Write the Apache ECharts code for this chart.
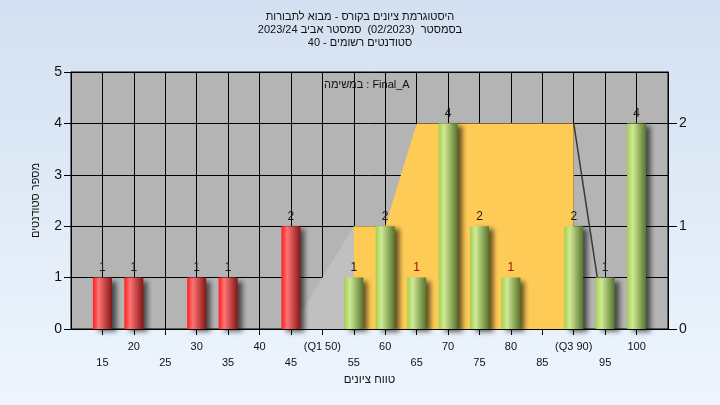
<!DOCTYPE html>
<html>
<head>
<meta charset="utf-8">
<script src="https://cdn.jsdelivr.net/npm/echarts@6/dist/echarts.min.js"></script>
<style>
html,body{margin:0;padding:0;}
#chart{width:720px;height:405px;}
</style>
</head>
<body>
<div id="chart"></div>
<script>
// ---- data ----
const titleLines = [
  'היסטוגרמת ציונים בקורס - מבוא לתבורות',
  'בסמסטר  (02/2023)  סמסטר אביב 2023/24',
  'סטודנטים רשומים - 40'
];
const annotationText = 'במשימה : Final_A';
const yAxisTitle = 'מספר סטודנטים';
const xAxisTitle = 'טווח ציונים';

const failGrades = [15, 20, 30, 35, 45];
const failCounts = [1, 1, 1, 1, 2];
const passGrades = [55, 60, 65, 70, 75, 80, 90, 95, 100];
const passCounts = [1, 2, 1, 4, 2, 1, 2, 1, 4];

const xTickValues = [15, 20, 25, 30, 35, 40, 45, 50, 55, 60, 65, 70, 75, 80, 85, 90, 95, 100];
const xTickLabels = ['15', '20', '25', '30', '35', '40', '45', '(Q1 50)', '55', '60', '65', '70', '75', '80', '85', '(Q3 90)', '95', '100'];
const y2TickValues = [0, 1, 2];

// box (right axis units)
const boxX = [55, 60, 65, 90];
const boxY = [1, 1, 2, 2];
const lowWhiskerX = [45, 55];
const lowWhiskerY = [0, 1];
const highWhiskerX = [90, 95];
const highWhiskerY = [2, 0];

// ---- helpers ----
const pairs = (xs, ys) => xs.map((x, i) => [x, ys[i]]);
const FONT = '"Liberation Sans", "DejaVu Sans", Arial, sans-serif';
const altLabelGrades = [65, 80];

const redGrad = new echarts.graphic.LinearGradient(0, 0, 1, 0, [
  {offset: 0, color: '#ff1e1e'}, {offset: 0.3, color: '#ff7474'}, {offset: 1, color: '#861616'}
]);
const greenGrad = new echarts.graphic.LinearGradient(0, 0, 1, 0, [
  {offset: 0, color: '#a4d04c'}, {offset: 0.3, color: '#cfea96'}, {offset: 1, color: '#56742c'}
]);
const barShadow = {shadowBlur: 5, shadowColor: 'rgba(0,0,0,0.6)', shadowOffsetX: 5, shadowOffsetY: 3};

function barData(xs, ys) {
  return xs.map((x, i) => ({
    value: [x, ys[i]],
    label: {color: altLabelGrades.includes(x) ? '#a01010' : '#1a1a1a'}
  }));
}

const chart = echarts.init(document.getElementById('chart'), null, {renderer: 'canvas'});
chart.setOption({
  animation: false,
  backgroundColor: new echarts.graphic.LinearGradient(0, 0, 0, 1, [
    {offset: 0, color: '#d3e0f1'}, {offset: 1, color: '#eef5fd'}
  ]),
  textStyle: {fontFamily: FONT},
  title: titleLines.map((t, i) => ({
    text: t,
    left: 'center',
    top: 11 + i * 13,
    padding: 0,
    textStyle: {fontSize: 11, fontWeight: 'normal', color: '#111', fontFamily: FONT}
  })),
  graphic: [{
    type: 'text',
    left: 324,
    top: 79,
    style: {text: annotationText, fontSize: 11, fill: '#111', fontFamily: FONT}
  }],
  grid: {
    left: 71, right: 52, top: 72, bottom: 76,
    show: true, backgroundColor: '#b4b4b4', borderColor: '#000', borderWidth: 1
  },
  xAxis: {
    type: 'value', min: 10, max: 105, interval: 5,
    name: xAxisTitle, nameLocation: 'middle', nameGap: 45,
    nameTextStyle: {fontSize: 11.5, color: '#111', fontFamily: FONT},
    axisLine: {show: true, lineStyle: {color: '#000', width: 1}},
    axisTick: {show: true, length: 6, lineStyle: {color: '#000'}},
    splitLine: {show: true, lineStyle: {color: '#000', width: 1}},
    axisLabel: {
      margin: 12,
      showMinLabel: false, showMaxLabel: false,
      formatter: function (v) {
        const i = xTickValues.indexOf(v);
        if (i < 0) return '';
        return (v % 10 === 0 ? '{a|' : '{b|') + xTickLabels[i] + '}';
      },
      rich: {
        a: {fontSize: 11, color: '#111', fontFamily: FONT},
        b: {fontSize: 11, color: '#111', fontFamily: FONT, padding: [16, 0, 0, 0]}
      }
    }
  },
  yAxis: [{
    type: 'value', min: 0, max: 5, interval: 1, position: 'left',
    name: yAxisTitle, nameLocation: 'middle', nameRotate: 90, nameGap: 30,
    nameTextStyle: {fontSize: 11, color: '#111', fontFamily: FONT},
    axisLine: {show: true, lineStyle: {color: '#000'}},
    axisTick: {show: true, length: 7, lineStyle: {color: '#000'}},
    splitLine: {show: true, lineStyle: {color: '#000', width: 1}},
    axisLabel: {fontSize: 14, color: '#111', margin: 9, fontFamily: FONT}
  }, {
    type: 'value', min: 0, max: 2.5, position: 'right',
    axisLine: {show: true, lineStyle: {color: '#000'}},
    axisTick: {show: true, length: 9, lineStyle: {color: '#000'}, customValues: y2TickValues},
    splitLine: {show: false},
    axisLabel: {fontSize: 14, color: '#111', margin: 11, fontFamily: FONT, customValues: y2TickValues}
  }],
  series: [
    {
      type: 'line', yAxisIndex: 1, data: pairs(lowWhiskerX, lowWhiskerY),
      symbol: 'none', lineStyle: {width: 0, opacity: 0},
      areaStyle: {color: '#c0c0c0', opacity: 1}, silent: true, z: 1
    },
    {
      type: 'line', yAxisIndex: 1, data: pairs(boxX, boxY),
      symbol: 'none', lineStyle: {width: 0, opacity: 0},
      areaStyle: {color: '#fecb56', opacity: 1}, silent: true, z: 1
    },
    {
      type: 'line', yAxisIndex: 1, data: pairs(highWhiskerX, highWhiskerY),
      symbol: 'none', lineStyle: {width: 1.5, color: '#3a3a3a'}, silent: true, z: 1
    },
    {
      type: 'bar', yAxisIndex: 0, data: barData(failGrades, failCounts),
      barWidth: 19, barGap: '-100%', z: 3,
      itemStyle: Object.assign({color: redGrad}, barShadow),
      label: {show: true, position: 'top', distance: 4, fontSize: 12, fontFamily: FONT}
    },
    {
      type: 'bar', yAxisIndex: 0, data: barData(passGrades, passCounts),
      barWidth: 19, barGap: '-100%', z: 3,
      itemStyle: Object.assign({color: greenGrad}, barShadow),
      label: {show: true, position: 'top', distance: 4, fontSize: 12, fontFamily: FONT}
    }
  ]
});
</script>
</body>
</html>
